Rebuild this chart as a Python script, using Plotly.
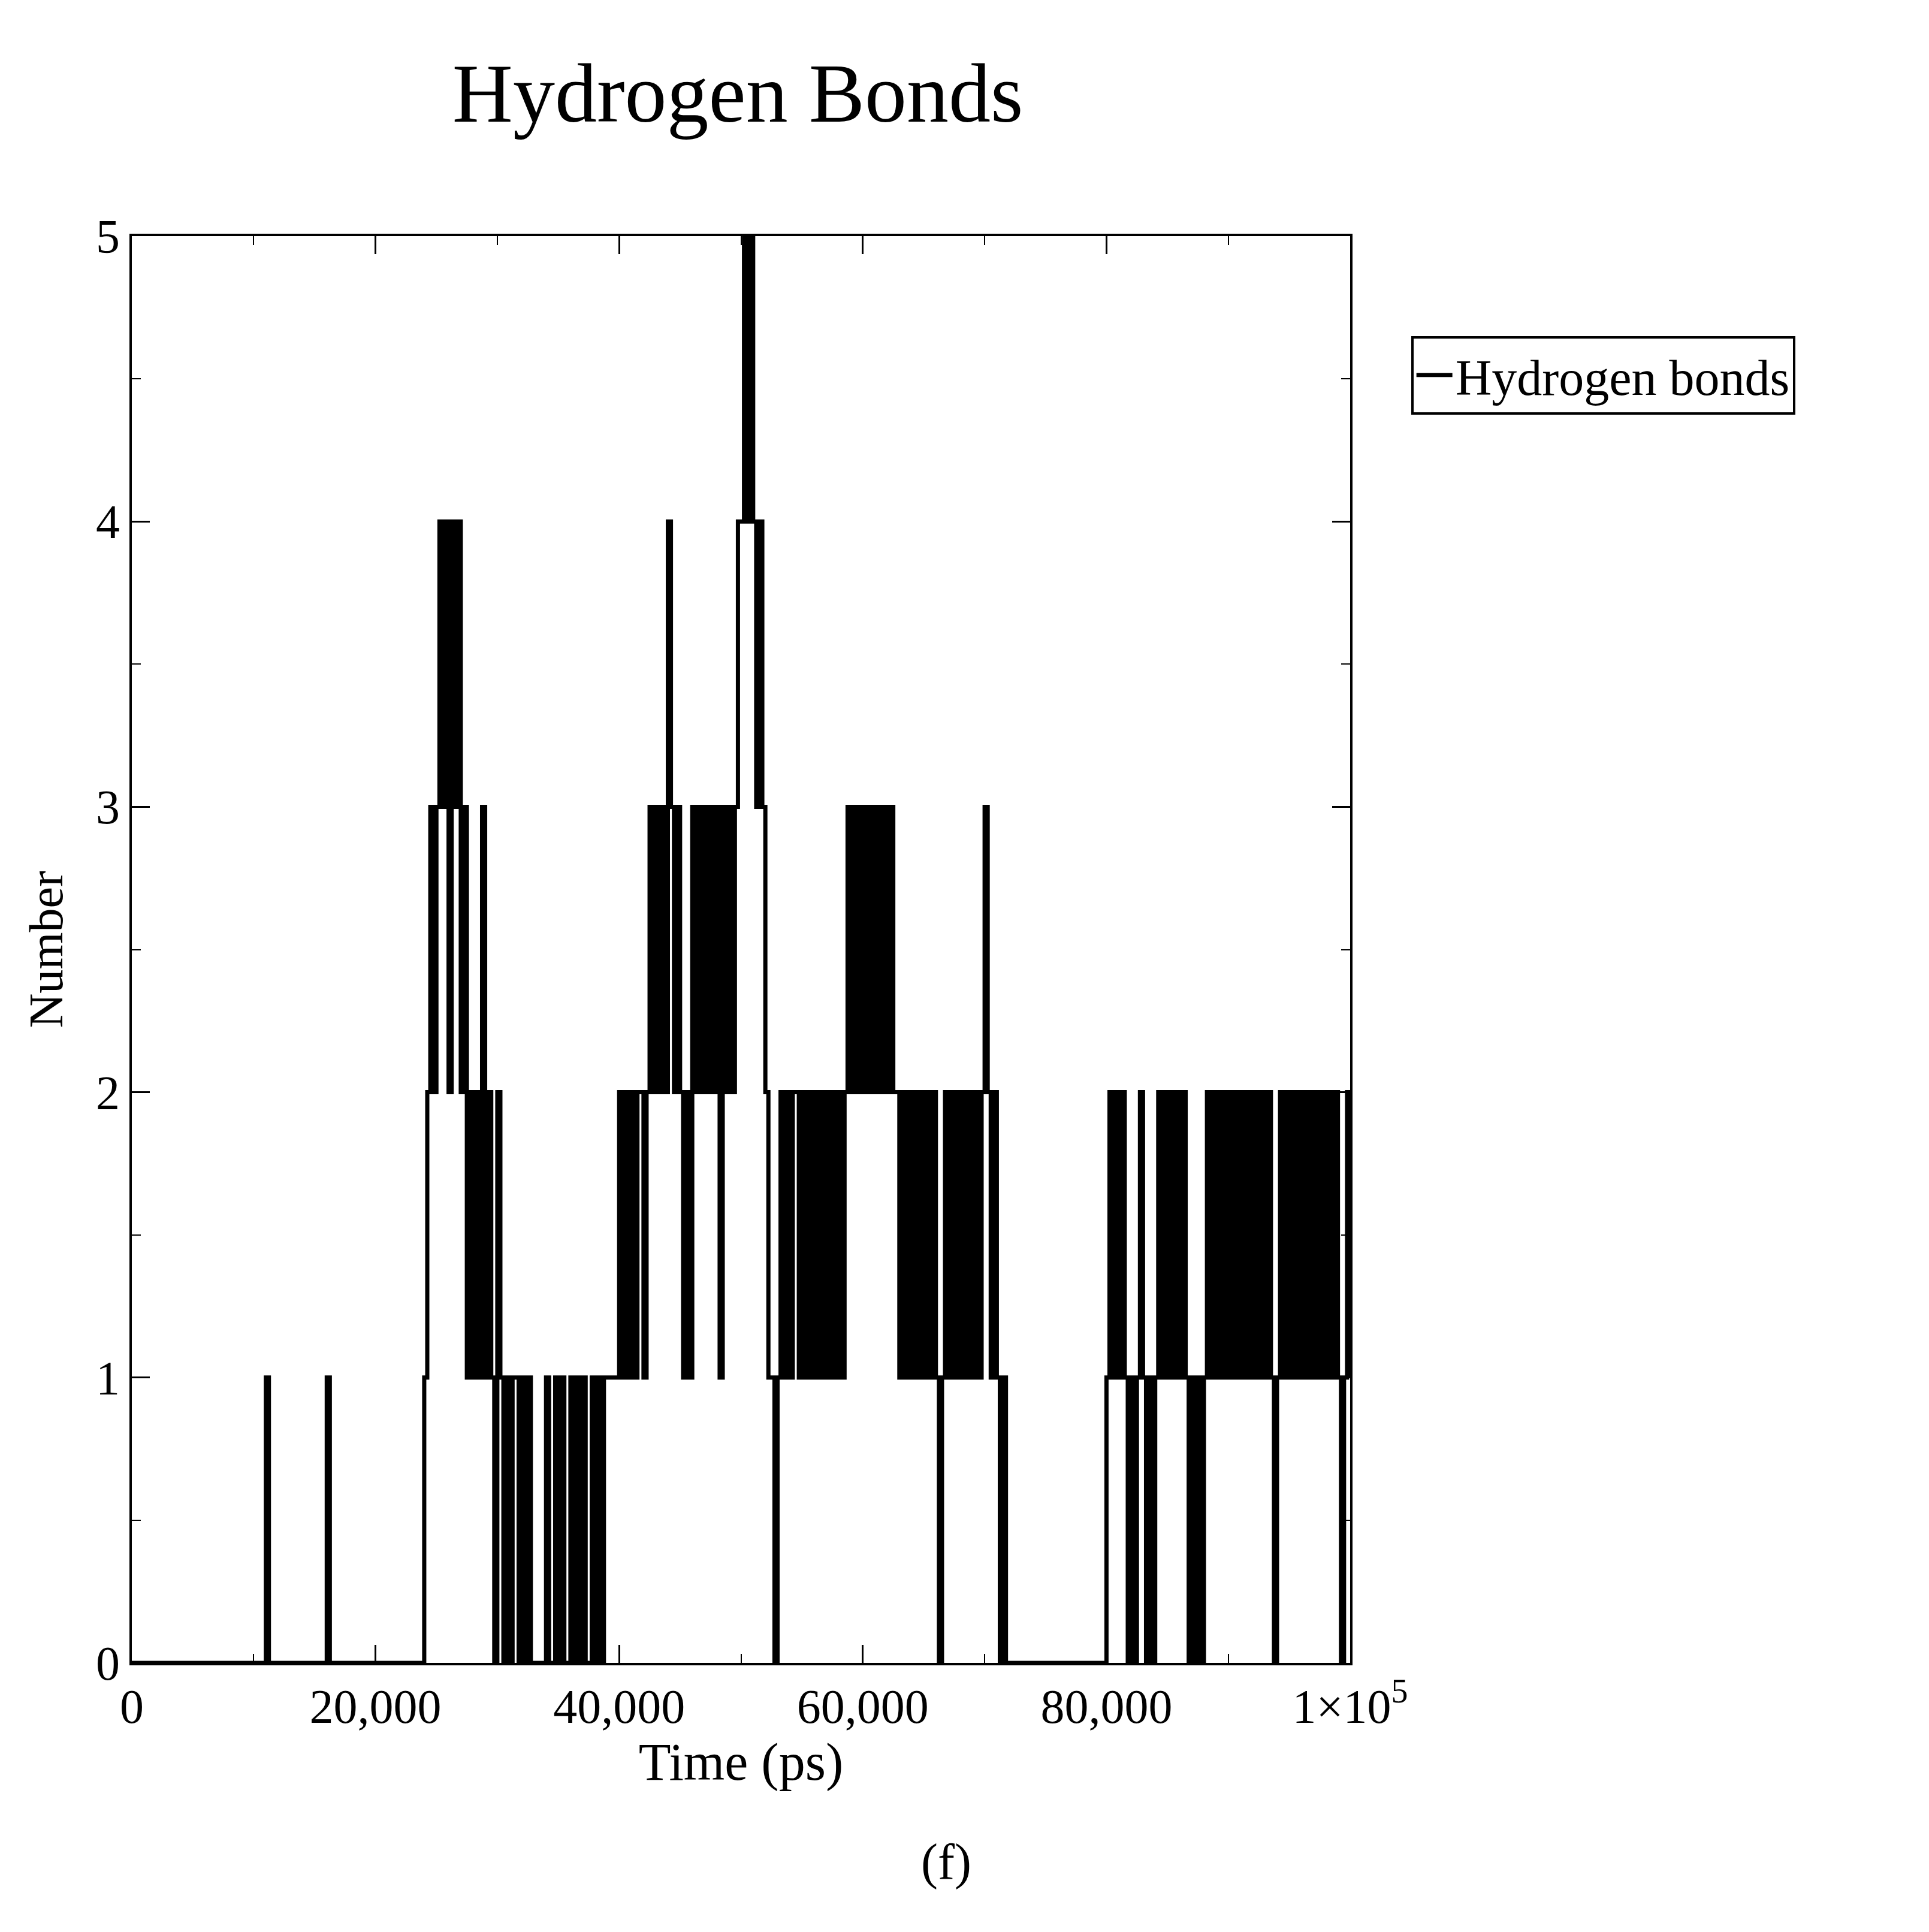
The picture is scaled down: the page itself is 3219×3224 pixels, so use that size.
import numpy as np
import plotly.graph_objects as go

# hydrogen bond count per frame (one frame every 250 ps)
step_ps = 250
seg_start = "0" * 44 + "1" + "0" * 19 + "1" + "0" * 31
seg_a = "12323434243423121213121021010110101"
seg_gap1 = "00000100101001010100101011"
seg_b = "111" + "2121212212" + "32323243232121323232323132323" + "44545434" + "321"
seg_c = ("10" + "12121221212121212121212" + "3232323232323232"
         + "21212121212121012121212121212" + "3" + "2121010")
seg_gap2 = "0" * 32
seg_d = ("1212121010" "1210101212" "1212121010" "1012121212" "1212121212"
         "1212101212" "1212121212" "1212121012" "1")

hbonds = [int(c) for c in seg_start + seg_a + seg_gap1 + seg_b + seg_c + seg_gap2 + seg_d]
time_ps = [i * step_ps for i in range(len(hbonds))]

x_ticks = [0, 20000, 40000, 60000, 80000, 100000]
x_labels = ["0", "20,000", "40,000", "60,000", "80,000", "1×10<sup>5</sup>"]
y_ticks = [0, 1, 2, 3, 4, 5]

serif = "Liberation Serif, Times New Roman, serif"

fig = go.Figure()
fig.add_trace(go.Scatter(
    x=time_ps, y=hbonds, mode="lines", line_shape="hv",
    line=dict(color="black", width=7), name="Hydrogen bonds"
))

axis_common = dict(
    showgrid=False, zeroline=False, showline=True, linecolor="black", linewidth=4,
    mirror="allticks", ticks="inside", ticklen=30, tickwidth=3, tickcolor="black",
    tickfont=dict(family=serif, size=80, color="black"),
)

fig.update_layout(
    width=3219, height=3224,
    margin=dict(l=212, r=974, t=386, b=457),
    paper_bgcolor="white", plot_bgcolor="white",
    font=dict(family=serif, color="black"),
    title=dict(text="Hydrogen Bonds", x=0.38, xanchor="center", y=0.97,
               font=dict(family=serif, size=140, color="black")),
    xaxis=dict(range=[0, 100000], tickvals=x_ticks, ticktext=x_labels,
               minor=dict(ticks="inside", ticklen=15, tickwidth=2, tickcolor="black", dtick=10000),
               title=dict(text="Time (ps)", font=dict(family=serif, size=88), standoff=5),
               **axis_common),
    yaxis=dict(range=[0, 5], tickvals=y_ticks,
               minor=dict(ticks="inside", ticklen=15, tickwidth=2, tickcolor="black", dtick=0.5),
               title=dict(text="Number", font=dict(family=serif, size=80), standoff=30),
               **axis_common),
    showlegend=True,
    legend=dict(x=1.05, y=0.93, xanchor="left", yanchor="top", itemwidth=60,
                bordercolor="black", borderwidth=4, bgcolor="white",
                font=dict(family=serif, size=84, color="black")),
)

fig.add_annotation(text="(f)", xref="paper", yref="paper", x=0.69, y=-0.16,
                   showarrow=False, font=dict(family=serif, size=84, color="black"))

fig.write_html("out.html")
